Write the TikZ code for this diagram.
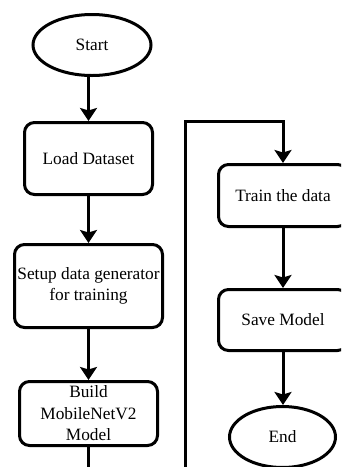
\documentclass[tikz,border=0pt]{standalone}
\usepackage{fontspec}
\setmainfont{Liberation Serif}
\usetikzlibrary{shapes.geometric,arrows.meta}

\tikzset{
  flow/.style={line width=3pt},
  stepbox/.style={flow, draw, rounded corners=10pt, align=center, inner sep=1pt,
                  font=\fontsize{17.3}{21.5}\selectfont},
  terminal/.style={flow, draw, ellipse, inner sep=1pt,
                   font=\fontsize{17.3}{21.5}\selectfont},
  arrowline/.style={flow, -{Stealth[length=13pt,width=17pt,inset=2.5pt]}},
}

\begin{document}
\begin{tikzpicture}[x=1pt,y=-1pt]
  \useasboundingbox (0,0) rectangle (341,467);
  \clip (0,0) rectangle (341,467);

  % left column
  \node[terminal, minimum width=118pt, minimum height=61pt] (start) at (92,45) {Start};
  \node[stepbox, minimum width=128pt, minimum height=72pt] (load) at (88.5,158.5) {Load Dataset};
  \node[stepbox, minimum width=148pt, minimum height=83pt] (setup) at (88.5,286) {Setup data generator\\for training};
  \node[stepbox, minimum width=138pt, minimum height=64pt] (build) at (88.5,413.5) {Build\\MobileNetV2\\Model};

  % right column
  \node[stepbox, minimum width=129pt, minimum height=62pt] (train) at (283,195.5) {Train the data};
  \node[stepbox, minimum width=129pt, minimum height=61pt] (save) at (283,320) {Save Model};
  \node[terminal, minimum width=106pt, minimum height=61pt] (end) at (282.5,437) {End};

  % loop route from the bottom of the left column over to the right column
  \coordinate (below) at (88.5,490);
  \coordinate (corner) at (185,121);

  \draw[arrowline] (start.south -| load.north) -- (load.north);
  \draw[arrowline] (load.south) -- (setup.north);
  \draw[arrowline] (setup.south) -- (build.north);
  \draw[arrowline] (build.south) -- (below) -| (corner) -| (train.north);
  \draw[arrowline] (train.south) -- (save.north);
  \draw[arrowline] (save.south) -- (end.north -| save.south);
\end{tikzpicture}
\end{document}
